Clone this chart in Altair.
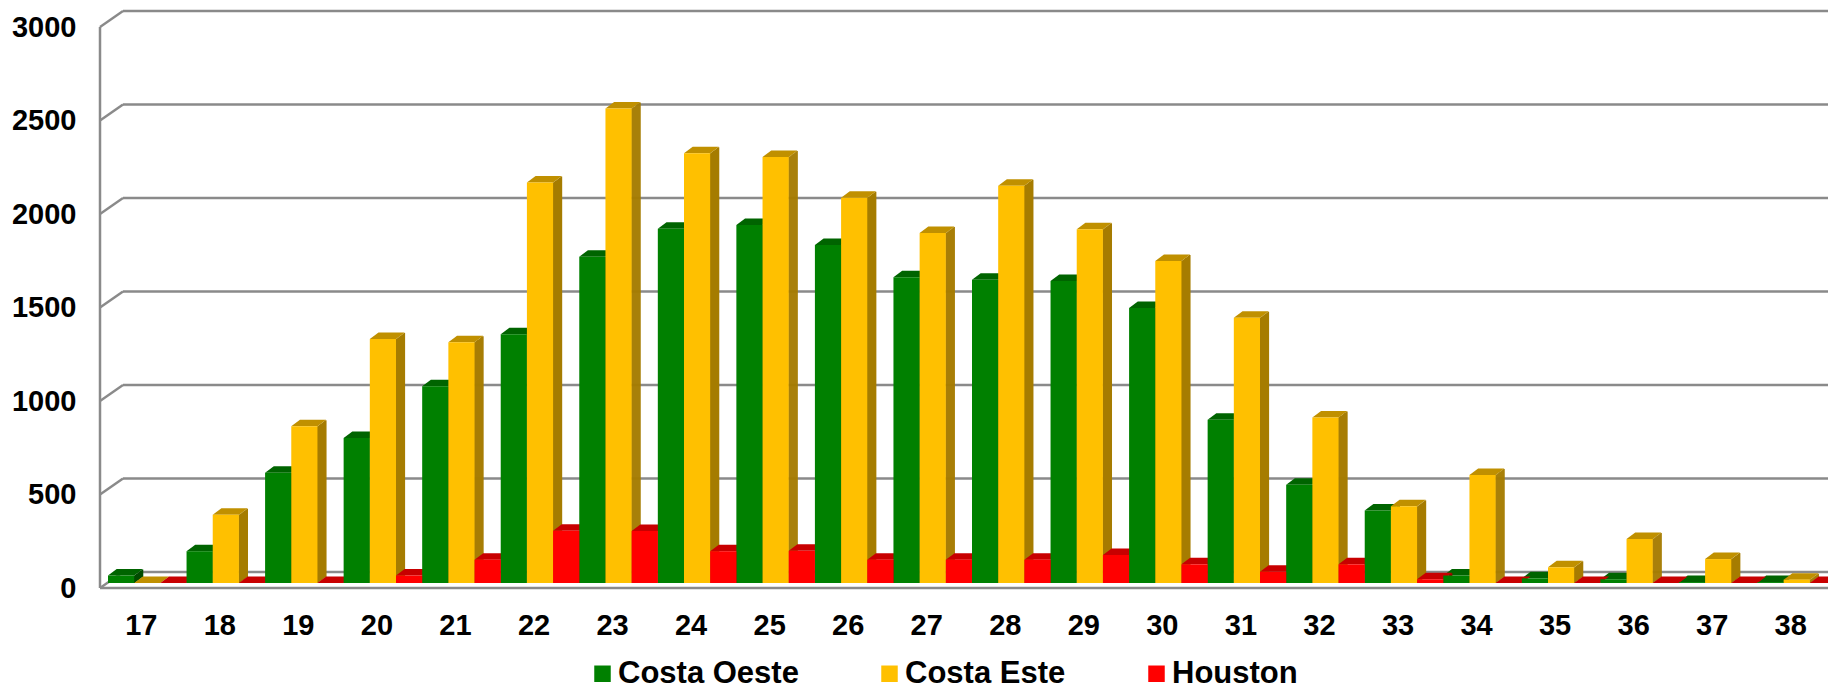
import altair as alt
import pandas as pd

weeks = list(range(17, 39))
oeste = [40, 170, 590, 776, 1052, 1330, 1745, 1895, 1915, 1808, 1635, 1622, 1615, 1471, 873, 525, 388, 40, 25, 20, 5, 5]
este = [0, 365, 838, 1305, 1287, 2142, 2538, 2298, 2278, 2060, 1872, 2124, 1892, 1722, 1418, 885, 410, 578, 84, 235, 128, 18]
houston = [0, 0, 0, 40, 125, 280, 278, 170, 172, 125, 125, 125, 150, 100, 60, 100, 20, 0, 0, 0, 0, 0]
grid_values = [0, 500, 1000, 1500, 2000, 2500, 3000]
series_names = ["Costa Oeste", "Costa Este", "Houston"]
front_colors = ["#008000", "#FFC000", "#FF0000"]
top_colors = ["#006400", "#C09000", "#C80000"]
side_colors = ["#004C00", "#A67C00", "#A00000"]
series_values = [oeste, este, houston]

W, H = 1720, 561
BAND_W = 1728
BAR = BAND_W / 22 / 3
FONT = "Liberation Sans"

x_enc = alt.X("week:O", scale=alt.Scale(domain=weeks, range=[0, BAND_W], paddingInner=0, paddingOuter=0),
              axis=alt.Axis(title=None, domain=False, ticks=False, labelAngle=0, labelFont=FONT,
                            labelFontWeight="bold", labelFontSize=29, labelColor="#000000",
                            labelPadding=28, labelOffset=-6))
y_scale = alt.Scale(domain=[0, 3000])
y_axis = alt.Axis(title=None, domain=False, ticks=False, grid=False, values=grid_values, format="d",
                  labelFont=FONT, labelFontWeight="bold", labelFontSize=29,
                  labelColor="#000000", labelPadding=32, labelOffset=5, labelFlush=False)
y_enc = alt.Y("v:Q", scale=y_scale, axis=y_axis)

grid_df = pd.DataFrame({"v": grid_values})
floor_df = pd.DataFrame({"v": [0], "t": [3000]})
GRAY = "#8A8A8A"

layers = []
# back wall grid lines and the diagonals to the front plane
layers.append(alt.Chart(grid_df).mark_rule(color=GRAY, strokeWidth=2.5, yOffset=-11, y2Offset=-11).encode(
    x=alt.value(15), x2=alt.value(BAND_W), y=y_enc))
layers.append(alt.Chart(grid_df).mark_point(
    shape="M-0.575 0.4 L0.575 -0.4", size=1600, filled=False, stroke=GRAY, strokeWidth=2.5, opacity=1, yOffset=-3
).encode(x=alt.value(3.5), y=y_enc))
layers.append(alt.Chart(floor_df).mark_rule(color=GRAY, strokeWidth=2.5, yOffset=5, y2Offset=5).encode(
    x=alt.value(-8), y=alt.Y("t:Q", scale=y_scale, axis=y_axis), y2="v:Q"))
layers.append(alt.Chart(floor_df).mark_rule(color=GRAY, strokeWidth=2.5, yOffset=5).encode(
    x=alt.value(-8), x2=alt.value(1723), y=y_enc))

frames = []
for i, name in enumerate(series_names):
    frames.append(pd.DataFrame({"week": weeks, "v": series_values[i], "z": 0, "series": name}))

# sides and tops, left to right
for i in range(3):
    off = (i - 1) * BAR
    for k in range(9):
        layers.append(alt.Chart(frames[i]).mark_rule(
            color=side_colors[i], strokeWidth=1.6,
            xOffset=off + BAR / 2 + k + 0.3, yOffset=-k * 0.75, y2Offset=-k * 0.75
        ).encode(x=x_enc, y=y_enc, y2="z:Q"))
    top = "M-0.655 0 L0.655 0 L1.09 -0.325 L-0.22 -0.325 Z"
    layers.append(alt.Chart(frames[i]).mark_point(
        shape=top, size=1600, filled=True, color=top_colors[i], strokeWidth=0, opacity=1, xOffset=off
    ).encode(x=x_enc, y=y_enc))

# front faces, carrying the legend
for i in range(3):
    layers.append(alt.Chart(frames[i]).mark_bar(width=BAR, xOffset=(i - 1) * BAR).encode(
        x=x_enc,
        y=y_enc,
        y2="z:Q",
        color=alt.Color("series:N", scale=alt.Scale(domain=series_names, range=front_colors),
                        legend=alt.Legend(title=None, orient="none", legendX=479, legendY=636,
                                          direction="horizontal", columns=3, columnPadding=75,
                                          symbolType="square", symbolSize=272, symbolStrokeWidth=0,
                                          labelFont=FONT, labelFontWeight="bold", labelFontSize=31,
                                          labelColor="#000000", labelOffset=0, labelLimit=400)),
    ))

chart = alt.layer(*layers).properties(
    width=W, height=H, background="#FFFFFF",
    autosize=alt.AutoSizeParams(type="none"),
    padding={"left": 100, "right": 0, "top": 14, "bottom": 106},
).configure_view(stroke=None)

chart.save("out.html", embed_options={"renderer": "svg", "actions": False})
